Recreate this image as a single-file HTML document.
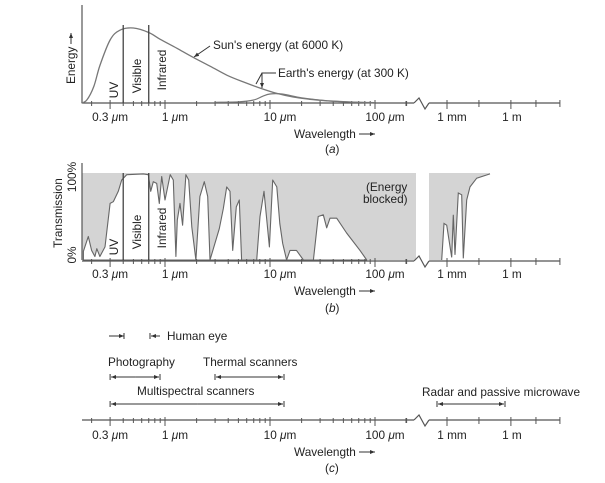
<!DOCTYPE html>
<html><head><meta charset="utf-8">
<style>
html,body{margin:0;padding:0;background:#fff;}
svg{display:block;font-family:"Liberation Sans",Arial,sans-serif;}
text{fill:#222;font-size:11.8px;}
</style></head>
<body>
<svg id="fig" width="605" height="483" viewBox="0 0 605 483">
<defs>
<marker id="ah" markerWidth="6" markerHeight="6" refX="5" refY="3" orient="auto"><path d="M0,1 L5,3 L0,5 Z" fill="#333"/></marker>
</defs>
<g id="layer"></g>
</svg>
<script>
// ---- data ----
const sunWl = [0.16,0.18,0.21,0.24,0.3,0.37,0.5,0.7,0.9,1.3,1.85,2.7,3.9,5.6,8,11.5,16.6,24,35,55,100];
const sunE  = [0,0.04,0.22,0.5,0.84,0.97,1.0,0.94,0.85,0.73,0.61,0.49,0.37,0.28,0.2,0.13,0.08,0.05,0.03,0.015,0];
const earthWl = [3,5,7,8.5,10,13,20,35,60,100];
const earthE  = [0.01,0.015,0.04,0.09,0.12,0.12,0.07,0.03,0.012,0.005];
const transWl = [0.167,0.186,0.2,0.215,0.224,0.24,0.268,0.3,0.322,0.359,0.387,0.432,0.621,0.693,0.731,0.774,0.834,0.883,0.931,1,1.12,1.2,1.27,1.31,1.39,1.47,1.58,1.68,1.8,1.97,2.15,2.37,2.55,2.68,3.29,3.59,3.87,4.16,4.41,4.78,5.1,5.37,7.47,8.03,8.77,9.86,10.6,11.6,12.4,13.2,14.4,15.5,17.9,20.8,25.9,28.8,32.2,34.7,37.3,43.2,53.7,71.9,83.3];
const transT  = [0.1,0.27,0.11,0.04,0.13,0.04,0.15,0.65,0.67,0.79,0.92,0.98,0.99,0.98,0.79,0.9,0.88,0.65,0.96,0.69,0.98,0.92,0.04,0.46,0.65,0.4,0.98,0.92,0.38,0,0.73,0.9,0.73,0,0.36,0.59,0.84,0.79,0.11,0.61,0.69,0,0,0.5,0.79,0.15,0.92,0.84,0.42,0.19,0,0.11,0.11,0,0,0.5,0.52,0.37,0.48,0.48,0.31,0.11,0];
const microMm = [0.564,0.723,0.97,1.66,1.98,2.38,3.4,4.9,5.8,8.4,12,24.8,104];
const microT  = [0,0.42,0.4,0.03,0.52,0.06,0.77,0.75,0.02,0.69,0.84,0.94,0.99];
const majorLabels = ["0.3 \u03bcm","1 \u03bcm","10 \u03bcm","100 \u03bcm"];
const majorWl = [0.3,1,10,100];
const minorWl = [0.2,0.4,0.5,0.6,0.7,0.8,0.9,2,3,4,5,6,7,8,9,20,30,40,50,60,70,80,90,200];
const rightLabels = ["1 mm","1 m"];
const rightMm = [1,1000];
const rightMinorMm = [31.6,15000,200000];

// ---- axes ----
const NS="http://www.w3.org/2000/svg";
const L=document.getElementById('layer');
function xw(um){return 165+105*Math.log10(um);}
function xm(mm){return 447+21.3*Math.log10(mm);}
function el(tag,attrs,parent){const e=document.createElementNS(NS,tag);for(const k in attrs)e.setAttribute(k,attrs[k]);(parent||L).appendChild(e);return e;}
function txt(s,x,y,attrs){const t=el('text',Object.assign({x:x,y:y},attrs||{}));t.innerHTML=s;return t;}
function label(s){return s.replace('\u03bcm','<tspan font-style="italic">\u03bc</tspan>m');}
function smooth(pts){
  let d='M'+pts[0][0].toFixed(1)+','+pts[0][1].toFixed(1);
  for(let i=0;i<pts.length-1;i++){
    const p0=pts[Math.max(0,i-1)],p1=pts[i],p2=pts[i+1],p3=pts[Math.min(pts.length-1,i+2)];
    const c1=[p1[0]+(p2[0]-p0[0])/6,p1[1]+(p2[1]-p0[1])/6];
    const c2=[p2[0]-(p3[0]-p1[0])/6,p2[1]-(p3[1]-p1[1])/6];
    d+=' C'+c1.map(v=>v.toFixed(1)).join(',')+' '+c2.map(v=>v.toFixed(1)).join(',')+' '+p2[0].toFixed(1)+','+p2[1].toFixed(1);
  }
  return d;
}

function drawAxis(y,name,labY){
  const g=el('g',{});
  
  
  el('line',{x1:82,y1:y,x2:414,y2:y,stroke:'#555','stroke-width':1.2},g);
  el('polyline',{points:`414,${y} 419,${y-5} 425,${y+6} 429,${y}`,fill:'none',stroke:'#555','stroke-width':1.2},g);
  el('line',{x1:429,y1:y,x2:560,y2:y,stroke:'#555','stroke-width':1.2},g);
  minorWl.forEach(w=>{const t=el('line',{x1:xw(w),y1:y-2,x2:xw(w),y2:y+3,stroke:'#555'},g);});
  el('line',{x1:406,y1:y-2,x2:406,y2:y+3,stroke:'#555'},g);
  majorWl.forEach((w,i)=>{
    const t=el('line',{x1:xw(w),y1:y-3,x2:xw(w),y2:y+6,stroke:'#555'},g);
    
    
    const lb=txt(label(majorLabels[i]),xw(w)+(i==0?0:10),labY,{'text-anchor':'middle'});
    
    
    g.appendChild(lb);
  });
  rightMm.forEach((m,i)=>{
    el('line',{x1:xm(m),y1:y-3,x2:xm(m),y2:y+6,stroke:'#555'},g);
    const lb=txt(rightLabels[i],xm(m)+(i==0?5:1),labY,{'text-anchor':'middle'});
    
    
    g.appendChild(lb);
  });
  rightMinorMm.forEach(m=>{el('line',{x1:xm(m),y1:y-3,x2:xm(m),y2:y+4,stroke:'#555'},g);});
  const wl=txt('Wavelength',294,labY+17,{});
  
  
  el('line',{x1:359,y1:labY+13,x2:375,y2:labY+13,stroke:'#333','marker-end':'url(#ah)'});
}

// ---- panel a ----
const yA=103, hA=75;
function ya(e){return yA-hA*e;}
el('line',{x1:82,y1:5,x2:82,y2:yA,stroke:'#555','stroke-width':1.2});
drawAxis(yA,'x-axis-a',121);
const sun=el('path',{d:smooth(sunWl.map((w,i)=>[xw(w),ya(sunE[i])])),fill:'none',stroke:'#777','stroke-width':1.3});


const earth=el('path',{d:smooth(earthWl.map((w,i)=>[xw(w),ya(earthE[i])])),fill:'none',stroke:'#777','stroke-width':1.2});


[[0.4,'visible-left-line'],[0.7,'visible-right-line']].forEach(([w,n])=>{
  const l=el('line',{x1:xw(w),y1:25,x2:xw(w),y2:yA,stroke:'#444','stroke-width':1.3});
  
});
function vtext(s,x,y,name,anchor){const t=txt(s,x,y,{transform:`rotate(-90 ${x} ${y})`,'text-anchor':anchor||'middle'});return t;}
vtext('UV',118,90,'uv-label');
vtext('Visible',141,76,'visible-label');
vtext('Infrared',166,70,'infrared-label');
vtext('Energy',75,84,'y-axis-title-a','start');
el('line',{x1:71,y1:44,x2:71,y2:33,stroke:'#333','marker-end':'url(#ah)'});
let t=txt("Sun's energy (at 6000 K)",213,49,{});
el('line',{x1:210,y1:46,x2:194,y2:57,stroke:'#333','marker-end':'url(#ah)'});
t=txt("Earth's energy (at 300 K)",278,77,{});
el('path',{d:'M276,73 L262,73 L262,88',fill:'none',stroke:'#333','marker-end':'url(#ah)'});
el('line',{x1:262,y1:73,x2:256,y2:84,stroke:'#333'});
t=txt('(<tspan font-style="italic">a</tspan>)',325,153,{});

// ---- panel b ----
const yB=260, hB=87;
function yb(v){return yB-hB*v;}
el('rect',{x:82,y:yb(1),width:416-82,height:hB,fill:'#d4d4d4'});
el('rect',{x:429,y:yb(1),width:490-429,height:hB,fill:'#d4d4d4'});
let tp=transWl.map((w,i)=>xw(w).toFixed(1)+','+yb(transT[i]).toFixed(1));
const tr=el('polygon',{points:xw(transWl[0]).toFixed(1)+','+yB+' '+tp.join(' ')+' '+xw(transWl[transWl.length-1]).toFixed(1)+','+yB,fill:'#fff',stroke:'#666','stroke-width':1.1,'stroke-linejoin':'round'});


let mp=microMm.map((m,i)=>xm(m).toFixed(1)+','+yb(microT[i]).toFixed(1));
const mw=el('polygon',{points:xm(microMm[0]).toFixed(1)+','+yB+' '+mp.join(' ')+' 490,'+yB,fill:'#fff',stroke:'none'});


const ml=el('polyline',{points:mp.join(' '),fill:'none',stroke:'#666','stroke-width':1.1});


el('line',{x1:82,y1:163,x2:82,y2:yB,stroke:'#555','stroke-width':1.2});
drawAxis(yB+1,'x-axis-b',278);
[[0.4,'visible-left-line-b'],[0.7,'visible-right-line-b']].forEach(([w,n])=>{
  const l=el('line',{x1:xw(w),y1:yb(1),x2:xw(w),y2:yB,stroke:'#444','stroke-width':1.3});
  
});
vtext('UV',118,247,'uv-label-b');
vtext('Visible',141,232,'visible-label-b');
vtext('Infrared',166,228,'infrared-label-b');
vtext('100%',76,177,'y-tick-100');
vtext('0%',76,255,'y-tick-0');
vtext('Transmission',62,213,'y-axis-title-b');
t=txt('(Energy',366,191,{});
txt('blocked)',363,203,{});
t=txt('(<tspan font-style="italic">b</tspan>)',325,312,{});

// ---- panel c ----
const yC=420;
drawAxis(yC,'x-axis-c',439);
function range(x1,x2,y,name){
  const g=el('g',{});
  
  
  el('line',{x1:x1,y1:y-3,x2:x1,y2:y+3,stroke:'#333'},g);
  el('line',{x1:x2,y1:y-3,x2:x2,y2:y+3,stroke:'#333'},g);
  el('line',{x1:(x1+x2)/2,y1:y,x2:x1+1,y2:y,stroke:'#333','marker-end':'url(#ah)'},g);
  el('line',{x1:(x1+x2)/2,y1:y,x2:x2-1,y2:y,stroke:'#333','marker-end':'url(#ah)'},g);
}
el('line',{x1:109,y1:336,x2:124,y2:336,stroke:'#333','marker-end':'url(#ah)'});
el('line',{x1:124,y1:333,x2:124,y2:339,stroke:'#333'});
el('line',{x1:150,y1:333,x2:150,y2:339,stroke:'#333'});
el('line',{x1:160,y1:336,x2:151,y2:336,stroke:'#333','marker-end':'url(#ah)'});
t=txt('Human eye',167,340,{});
t=txt('Photography',108,366,{});
range(xw(0.3),xw(1.0)-5,377,'photography-range');
t=txt('Thermal scanners',203,366,{});
range(215,284,377,'thermal-range');
t=txt('Multispectral scanners',137,395,{});
range(xw(0.3),284,404,'multispectral-range');
t=txt('Radar and passive microwave',422,396,{});
range(437,505,404,'radar-range');
t=txt('(<tspan font-style="italic">c</tspan>)',325,472,{});
</script>
</body></html>
